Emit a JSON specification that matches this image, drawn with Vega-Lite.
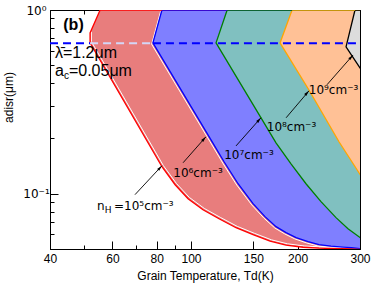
{
  "$schema": "https://vega.github.io/schema/vega-lite/v6.json",
  "width": 310,
  "height": 239,
  "autosize": "none",
  "padding": {"left": 50, "top": 10, "right": 16, "bottom": 37},
  "background": "white",
  "config": {
    "view": {"stroke": "black", "strokeWidth": 1},
    "font": "Liberation Sans",
    "axis": {"grid": false, "labelFont": "Liberation Sans", "titleFont": "Liberation Sans", "labelFontSize": 12, "titleFontSize": 12, "titleFontWeight": "normal", "labelColor": "black", "titleColor": "black", "tickColor": "black", "domainColor": "black", "zindex": 1, "labelFlush": false, "labelOverlap": false}
  },
  "datasets": {
    "curves": [
      {"n": "1e5", "T": 55.4, "a": 1}, {"n": "1e5", "T": 51.9, "a": 0.75}, {"n": "1e5", "T": 51.9, "a": 0.662}, {"n": "1e5", "T": 82.8, "a": 0.1402}, {"n": "1e5", "T": 90.2, "a": 0.1119}, {"n": "1e5", "T": 98.1, "a": 0.0939}, {"n": "1e5", "T": 108.1, "a": 0.0818}, {"n": "1e5", "T": 120, "a": 0.0731}, {"n": "1e5", "T": 134, "a": 0.0653}, {"n": "1e5", "T": 149.7, "a": 0.0599}, {"n": "1e5", "T": 167.2, "a": 0.0552}, {"n": "1e5", "T": 185.5, "a": 0.0525}, {"n": "1e5", "T": 207.1, "a": 0.0511}, {"n": "1e5", "T": 229.8, "a": 0.0505}, {"n": "1e5", "T": 263.4, "a": 0.0502}, {"n": "1e5", "T": 300, "a": 0.0501},
      {"n": "1e6", "T": 82.8, "a": 1}, {"n": "1e6", "T": 78.1, "a": 0.662}, {"n": "1e6", "T": 113.9, "a": 0.1965}, {"n": "1e6", "T": 124, "a": 0.1492}, {"n": "1e6", "T": 135.8, "a": 0.1133}, {"n": "1e6", "T": 149.7, "a": 0.0883}, {"n": "1e6", "T": 161.8, "a": 0.075}, {"n": "1e6", "T": 173.8, "a": 0.0662}, {"n": "1e6", "T": 185.5, "a": 0.0614}, {"n": "1e6", "T": 198, "a": 0.0577}, {"n": "1e6", "T": 214, "a": 0.0548}, {"n": "1e6", "T": 229.8, "a": 0.0528}, {"n": "1e6", "T": 248.5, "a": 0.0518}, {"n": "1e6", "T": 268.6, "a": 0.0512}, {"n": "1e6", "T": 300, "a": 0.0505},
      {"n": "1e7", "T": 126.5, "a": 1}, {"n": "1e7", "T": 117.7, "a": 0.662}, {"n": "1e7", "T": 173.8, "a": 0.1893}, {"n": "1e7", "T": 191.6, "a": 0.1455}, {"n": "1e7", "T": 211.2, "a": 0.1133}, {"n": "1e7", "T": 232.8, "a": 0.0905}, {"n": "1e7", "T": 256.7, "a": 0.0741}, {"n": "1e7", "T": 277.5, "a": 0.0645}, {"n": "1e7", "T": 300, "a": 0.0577}, {"n": "1e7", "T": 324.3, "a": 0.0528},
      {"n": "1e8", "T": 192.9, "a": 1}, {"n": "1e8", "T": 178.4, "a": 0.662}, {"n": "1e8", "T": 215.3, "a": 0.367}, {"n": "1e8", "T": 261.7, "a": 0.1918}, {"n": "1e8", "T": 298, "a": 0.13}, {"n": "1e8", "T": 318, "a": 0.108},
      {"n": "1e9", "T": 290.4, "a": 1}, {"n": "1e9", "T": 274, "a": 0.63}, {"n": "1e9", "T": 300, "a": 0.484}, {"n": "1e9", "T": 320, "a": 0.4}
    ],
    "dash": [
      {"T1": 40, "T2": 51.9, "s": "o"}, {"T1": 51.9, "T2": 78.1, "s": "i"}, {"T1": 78.1, "T2": 300, "s": "o"}
    ],
    "arrows": [
      {"T1": 69.5, "a1": 0.0988, "T2": 82.8, "a2": 0.142},
      {"T1": 95, "a1": 0.1474, "T2": 110.2, "a2": 0.204},
      {"T1": 134, "a1": 0.182, "T2": 157.6, "a2": 0.259},
      {"T1": 185.6, "a1": 0.259, "T2": 215.3, "a2": 0.363},
      {"T1": 242, "a1": 0.3917, "T2": 286.8, "a2": 0.569}
    ],
    "labels": [
      {"T": 104.7, "a": 0.1237, "label": "10⁶cm⁻³"},
      {"T": 145.8, "a": 0.155, "label": "10⁷cm⁻³"},
      {"T": 192.2, "a": 0.2208, "label": "10⁸cm⁻³"},
      {"T": 252.6, "a": 0.348, "label": "10⁹cm⁻³"}
    ],
    "nh": [{"T": 54.3, "a": 0.0818, "base": "n", "sub": "H", "rest": "=10⁵cm⁻³"}],
    "ac": [{"T": 41.3, "a": 0.4378, "base": "a", "sub": "c", "rest": "=0.05μm"}],
    "notes": [{"T": 41.3, "a": 0.548, "label": "λ̄=1.2μm"}],
    "panel": [{"T": 46.6, "a": 0.778, "label": "(b)"}]
  },
  "resolve": {"axis": {"x": "independent", "y": "independent"}},
  "layer": [
    {
      "data": {"name": "curves"},
      "mark": {"type": "area", "orient": "horizontal", "clip": true},
      "encoding": {
        "y": {"field": "a", "type": "quantitative", "scale": {"type": "log", "domain": [0.05, 1], "nice": false},
          "axis": {"orient": "left", "values": [0.05, 0.06, 0.07, 0.08, 0.09, 0.1, 0.2, 0.3, 0.4, 0.5, 0.6, 0.7, 0.8, 0.9, 1],
            "labelExpr": "datum.value == 1 ? '10⁰' : (datum.value == 0.1 ? '10⁻¹' : '')",
            "tickSize": {"condition": {"test": "datum.value == 1 || datum.value == 0.1", "value": -8}, "value": -4},
            "labelFont": "DejaVu Sans", "labelAlign": "center", "labelPadding": 22,
            "title": "adisr(μm)", "titleX": -42, "titleY": 87, "titleBaseline": "middle", "titleAlign": "center"}},
        "x": {"field": "T", "type": "quantitative", "stack": null, "scale": {"type": "log", "domain": [40, 300], "nice": false},
          "axis": {"orient": "bottom", "values": [40, 50, 60, 70, 80, 90, 100, 150, 200, 300], "format": "d",
            "labelExpr": "indexof([50, 70, 90], datum.value) >= 0 ? '' : datum.label",
            "tickSize": {"condition": {"test": "indexof([50, 70, 90], datum.value) >= 0", "value": -4}, "value": -8},
            "labelPadding": 12, "title": "Grain Temperature, Td(K)", "titlePadding": 2}},
        "x2": {"datum": 320},
        "fill": {"field": "n", "type": "nominal", "legend": null, "scale": {"domain": ["1e5", "1e6", "1e7", "1e8", "1e9"], "range": ["#E87D7D", "#7F7FFF", "#80C0C0", "#FFC196", "#DCDCDC"]}}
      }
    },
    {
      "data": {"name": "curves"},
      "transform": [{"filter": "datum.n == '1e5' && datum.a < 1"}],
      "mark": {"type": "line", "clip": true, "color": "white", "strokeWidth": 1, "xOffset": 1.3, "yOffset": -1.3},
      "encoding": {
        "x": {"field": "T", "type": "quantitative", "scale": {"type": "log", "domain": [40, 300], "nice": false}, "axis": null},
        "y": {"field": "a", "type": "quantitative", "scale": {"type": "log", "domain": [0.05, 1], "nice": false}, "axis": null},
        "order": {"field": "a", "sort": "descending"}
      }
    },
    {
      "data": {"name": "curves"},
      "transform": [{"filter": "datum.n == '1e6'"}],
      "mark": {"type": "line", "clip": true, "color": "white", "strokeWidth": 1, "xOffset": -1.3, "yOffset": 1.3},
      "encoding": {
        "x": {"field": "T", "type": "quantitative", "scale": {"type": "log", "domain": [40, 300], "nice": false}, "axis": null},
        "y": {"field": "a", "type": "quantitative", "scale": {"type": "log", "domain": [0.05, 1], "nice": false}, "axis": null},
        "order": {"field": "a", "sort": "descending"}
      }
    },
    {
      "data": {"name": "curves"},
      "mark": {"type": "line", "clip": true, "strokeWidth": 1.3},
      "encoding": {
        "x": {"field": "T", "type": "quantitative", "scale": {"type": "log", "domain": [40, 300], "nice": false}, "axis": null},
        "y": {"field": "a", "type": "quantitative", "scale": {"type": "log", "domain": [0.05, 1], "nice": false}, "axis": null},
        "order": {"field": "a", "sort": "descending"},
        "stroke": {"field": "n", "type": "nominal", "legend": null, "scale": {"domain": ["1e5", "1e6", "1e7", "1e8", "1e9"], "range": ["#FF0000", "#0000FF", "#008000", "#FFA500", "#000000"]}}
      }
    },
    {
      "data": {"name": "curves"},
      "transform": [{"filter": "datum.a == 1"}],
      "mark": {"type": "rule", "clip": true, "strokeWidth": 1.5},
      "encoding": {
        "x": {"field": "T", "type": "quantitative", "scale": {"type": "log", "domain": [40, 300], "nice": false}, "axis": null},
        "x2": {"datum": 320},
        "y": {"field": "a", "type": "quantitative", "scale": {"type": "log", "domain": [0.05, 1], "nice": false}, "axis": null},
        "stroke": {"field": "n", "type": "nominal", "legend": null}
      }
    },
    {
      "data": {"name": "dash"},
      "mark": {"type": "rule", "strokeWidth": 2, "strokeDash": [8, 5]},
      "encoding": {
        "x": {"field": "T1", "type": "quantitative", "scale": {"type": "log", "domain": [40, 300], "nice": false},
          "axis": {"orient": "top", "values": [40, 50, 60, 70, 80, 90, 100, 150, 200, 300], "labels": false, "title": null, "domain": false,
            "tickSize": {"condition": {"test": "indexof([50, 70, 90], datum.value) >= 0", "value": -4}, "value": -8}}},
        "x2": {"field": "T2"},
        "y": {"datum": 0.66, "type": "quantitative", "scale": {"type": "log", "domain": [0.05, 1], "nice": false},
          "axis": {"orient": "right", "values": [0.05, 0.06, 0.07, 0.08, 0.09, 0.1, 0.2, 0.3, 0.4, 0.5, 0.6, 0.7, 0.8, 0.9, 1], "labels": false, "title": null,
            "tickSize": {"condition": {"test": "datum.value == 1 || datum.value == 0.1", "value": -8}, "value": -4}}},
        "color": {"field": "s", "type": "nominal", "legend": null, "scale": {"domain": ["o", "i"], "range": ["#0000FF", "#D4D6F6"]}}
      }
    },
    {
      "data": {"name": "arrows"},
      "mark": {"type": "rule", "color": "black", "strokeWidth": 0.9},
      "encoding": {
        "x": {"field": "T1", "type": "quantitative", "scale": {"type": "log", "domain": [40, 300], "nice": false}, "axis": null},
        "y": {"field": "a1", "type": "quantitative", "scale": {"type": "log", "domain": [0.05, 1], "nice": false}, "axis": null},
        "x2": {"field": "T2"},
        "y2": {"field": "a2"}
      }
    },
    {
      "data": {"name": "arrows"},
      "mark": {"type": "point", "shape": "M0,0L0.4,1.6L-0.4,1.6Z", "filled": true, "color": "black", "opacity": 1, "size": 49, "angle": 42},
      "encoding": {
        "x": {"field": "T2", "type": "quantitative", "scale": {"type": "log", "domain": [40, 300], "nice": false}, "axis": null},
        "y": {"field": "a2", "type": "quantitative", "scale": {"type": "log", "domain": [0.05, 1], "nice": false}, "axis": null}
      }
    },
    {
      "data": {"name": "labels"},
      "mark": {"type": "text", "fontSize": 12, "color": "black", "align": "center", "baseline": "alphabetic", "font": "DejaVu Sans"},
      "encoding": {
        "x": {"field": "T", "type": "quantitative", "scale": {"type": "log", "domain": [40, 300], "nice": false}, "axis": null},
        "y": {"field": "a", "type": "quantitative", "scale": {"type": "log", "domain": [0.05, 1], "nice": false}, "axis": null},
        "text": {"field": "label"}
      }
    },
    {
      "data": {"name": "nh"},
      "mark": {"type": "text", "fontSize": 12, "color": "black", "align": "left", "baseline": "alphabetic", "font": "DejaVu Sans"},
      "encoding": {
        "x": {"field": "T", "type": "quantitative", "scale": {"type": "log", "domain": [40, 300], "nice": false}, "axis": null},
        "y": {"field": "a", "type": "quantitative", "scale": {"type": "log", "domain": [0.05, 1], "nice": false}, "axis": null},
        "text": {"field": "base"}
      }
    },
    {
      "data": {"name": "nh"},
      "mark": {"type": "text", "fontSize": 9, "color": "black", "align": "left", "baseline": "alphabetic", "font": "DejaVu Sans", "dx": 7.8, "dy": 3},
      "encoding": {
        "x": {"field": "T", "type": "quantitative", "scale": {"type": "log", "domain": [40, 300], "nice": false}, "axis": null},
        "y": {"field": "a", "type": "quantitative", "scale": {"type": "log", "domain": [0.05, 1], "nice": false}, "axis": null},
        "text": {"field": "sub"}
      }
    },
    {
      "data": {"name": "nh"},
      "mark": {"type": "text", "fontSize": 12, "color": "black", "align": "left", "baseline": "alphabetic", "font": "DejaVu Sans", "dx": 17},
      "encoding": {
        "x": {"field": "T", "type": "quantitative", "scale": {"type": "log", "domain": [40, 300], "nice": false}, "axis": null},
        "y": {"field": "a", "type": "quantitative", "scale": {"type": "log", "domain": [0.05, 1], "nice": false}, "axis": null},
        "text": {"field": "rest"}
      }
    },
    {
      "data": {"name": "ac"},
      "mark": {"type": "text", "fontSize": 16, "color": "black", "align": "left", "baseline": "alphabetic", "font": "Liberation Sans"},
      "encoding": {
        "x": {"field": "T", "type": "quantitative", "scale": {"type": "log", "domain": [40, 300], "nice": false}, "axis": null},
        "y": {"field": "a", "type": "quantitative", "scale": {"type": "log", "domain": [0.05, 1], "nice": false}, "axis": null},
        "text": {"field": "base"}
      }
    },
    {
      "data": {"name": "ac"},
      "mark": {"type": "text", "fontSize": 10, "color": "black", "align": "left", "baseline": "alphabetic", "font": "Liberation Sans", "dx": 9, "dy": 3},
      "encoding": {
        "x": {"field": "T", "type": "quantitative", "scale": {"type": "log", "domain": [40, 300], "nice": false}, "axis": null},
        "y": {"field": "a", "type": "quantitative", "scale": {"type": "log", "domain": [0.05, 1], "nice": false}, "axis": null},
        "text": {"field": "sub"}
      }
    },
    {
      "data": {"name": "ac"},
      "mark": {"type": "text", "fontSize": 16, "color": "black", "align": "left", "baseline": "alphabetic", "font": "Liberation Sans", "dx": 14},
      "encoding": {
        "x": {"field": "T", "type": "quantitative", "scale": {"type": "log", "domain": [40, 300], "nice": false}, "axis": null},
        "y": {"field": "a", "type": "quantitative", "scale": {"type": "log", "domain": [0.05, 1], "nice": false}, "axis": null},
        "text": {"field": "rest"}
      }
    },
    {
      "data": {"name": "notes"},
      "mark": {"type": "text", "fontSize": 16, "color": "black", "align": "left", "baseline": "alphabetic", "font": "Liberation Sans"},
      "encoding": {
        "x": {"field": "T", "type": "quantitative", "scale": {"type": "log", "domain": [40, 300], "nice": false}, "axis": null},
        "y": {"field": "a", "type": "quantitative", "scale": {"type": "log", "domain": [0.05, 1], "nice": false}, "axis": null},
        "text": {"field": "label"}
      }
    },
    {
      "data": {"name": "panel"},
      "mark": {"type": "text", "fontSize": 16, "fontWeight": "bold", "color": "black", "align": "center", "baseline": "alphabetic", "font": "Liberation Sans"},
      "encoding": {
        "x": {"field": "T", "type": "quantitative", "scale": {"type": "log", "domain": [40, 300], "nice": false}, "axis": null},
        "y": {"field": "a", "type": "quantitative", "scale": {"type": "log", "domain": [0.05, 1], "nice": false}, "axis": null},
        "text": {"field": "label"}
      }
    }
  ]
}
